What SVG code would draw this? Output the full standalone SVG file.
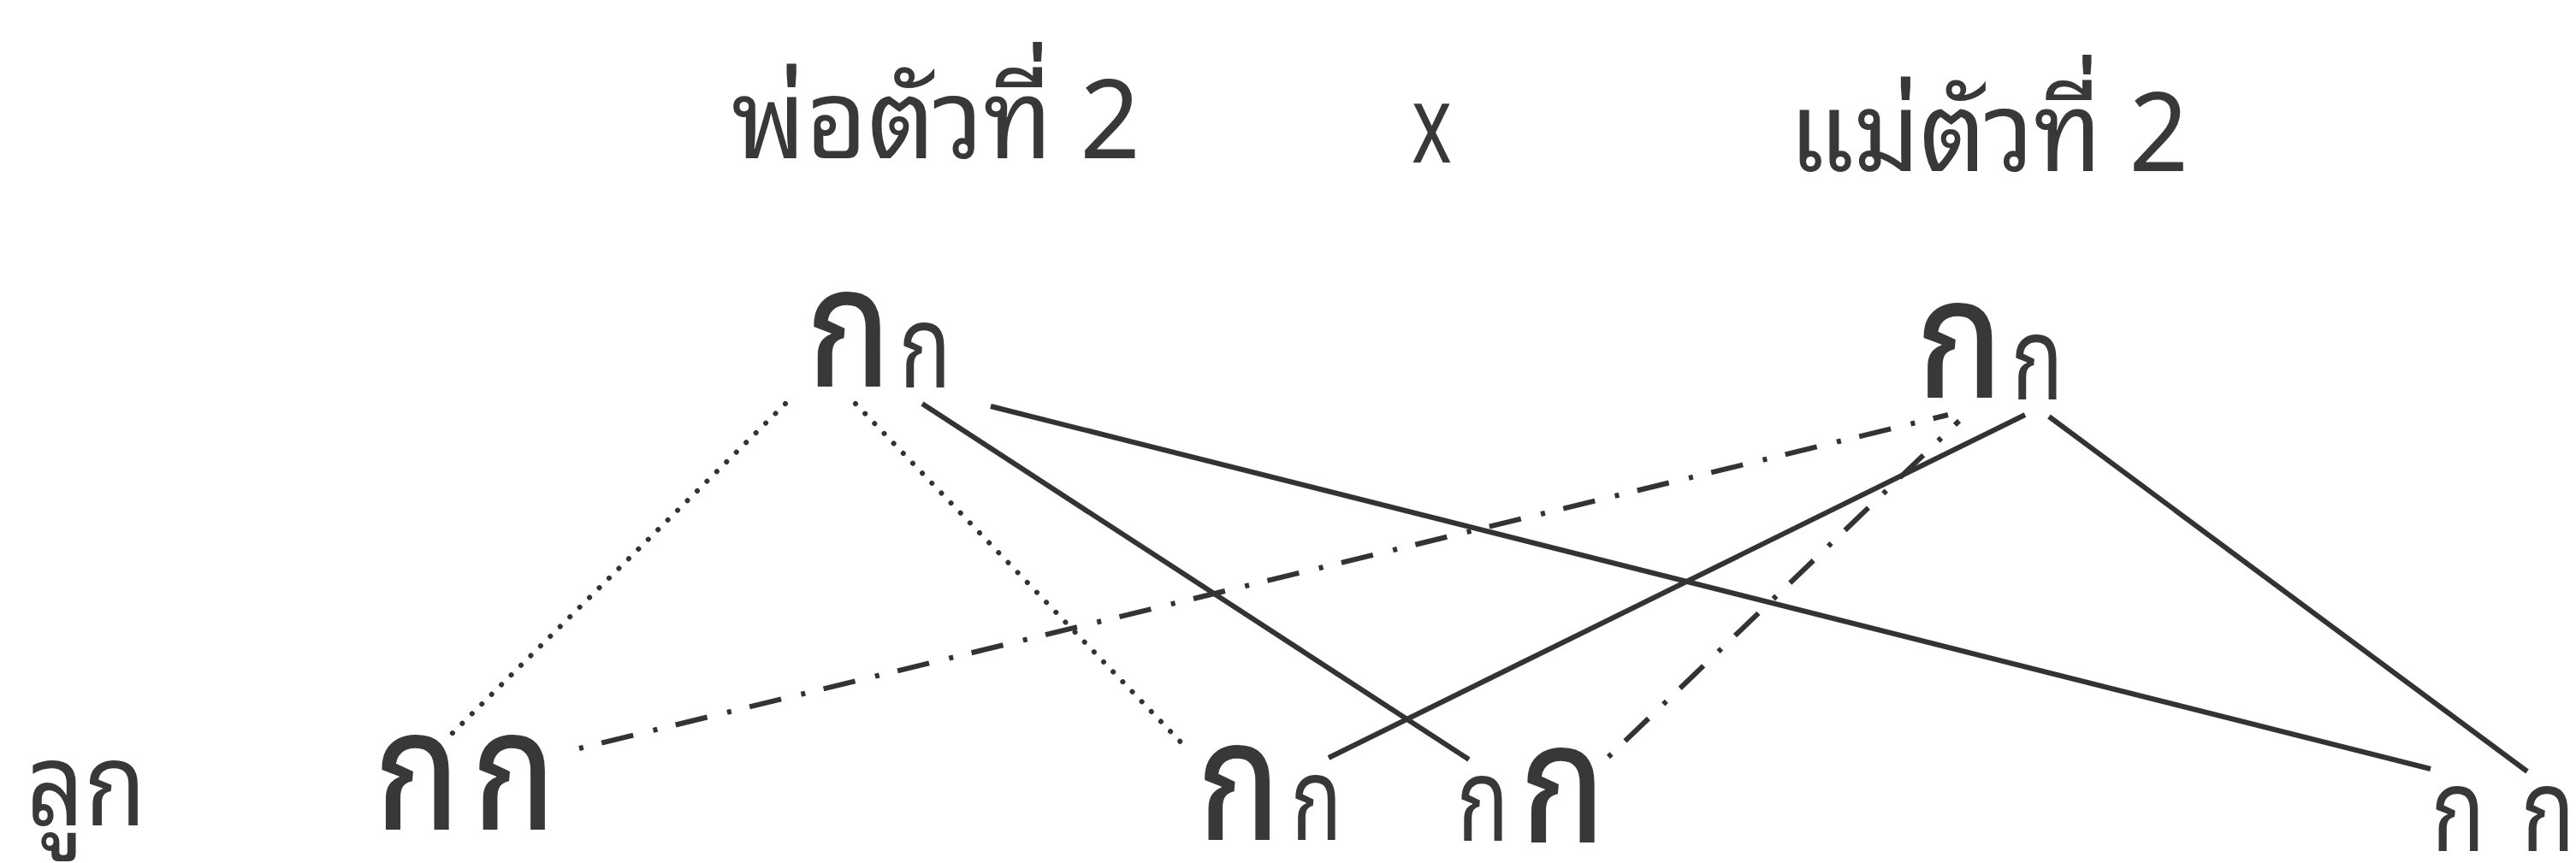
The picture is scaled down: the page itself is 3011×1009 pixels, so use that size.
<svg xmlns="http://www.w3.org/2000/svg" width="3011" height="1009" viewBox="0 0 3011 1009">
<style>
text { font-family: "Noto Sans Thai Looped", "Noto Sans Thai", "Noto Sans", "DejaVu Sans", sans-serif; fill: #383838; }
.big { font-size: 196px; font-weight: 500; }
.sm { font-size: 134px; font-weight: 400; }
.title { font-size: 128px; }
.ln { stroke: #333333; stroke-width: 6; fill: none; }
.dot { stroke-dasharray: 0.1 16; stroke-linecap: round; stroke-width: 6; }
.dd { stroke-dasharray: 5 22 38 24; stroke-width: 6; }
</style>
<rect width="3011" height="1009" fill="#ffffff"/>
<g id="title-father"><text class="title" x="855" y="185" textLength="478" lengthAdjust="spacingAndGlyphs">พ่อตัวที่ 2</text></g>
<g id="cross"><text class="title" x="1650" y="190" textLength="47" lengthAdjust="spacingAndGlyphs">x</text></g>
<g id="title-mother"><text class="title" x="2091" y="200" textLength="467" lengthAdjust="spacingAndGlyphs">แม่ตัวที่ 2</text></g>
<g id="parent-father"><text><tspan class="big" x="943" y="452" textLength="99" lengthAdjust="spacingAndGlyphs">ก</tspan><tspan class="sm" x="1051" y="453" textLength="61" lengthAdjust="spacingAndGlyphs">ก</tspan></text></g>
<g id="parent-mother"><text><tspan class="big" x="2240" y="465" textLength="102" lengthAdjust="spacingAndGlyphs">ก</tspan><tspan class="sm" x="2351" y="467" textLength="61" lengthAdjust="spacingAndGlyphs">ก</tspan></text></g>
<g id="label-offspring"><text class="sm" x="31" y="965" textLength="140" lengthAdjust="spacingAndGlyphs">ลูก</text></g>
<g id="child-1"><text class="big"><tspan x="438" y="970" textLength="100" lengthAdjust="spacingAndGlyphs">ก</tspan><tspan x="552" y="970" textLength="98" lengthAdjust="spacingAndGlyphs">ก</tspan></text></g>
<g id="child-2"><text><tspan class="big" x="1400" y="982" textLength="97" lengthAdjust="spacingAndGlyphs">ก</tspan><tspan class="sm" x="1509" y="982" textLength="60" lengthAdjust="spacingAndGlyphs">ก</tspan></text></g>
<g id="child-3"><text><tspan class="sm" x="1703" y="983" textLength="61" lengthAdjust="spacingAndGlyphs">ก</tspan><tspan class="big" x="1777" y="985" textLength="100" lengthAdjust="spacingAndGlyphs">ก</tspan></text></g>
<g id="child-4"><text class="sm"><tspan x="2842" y="995" textLength="63" lengthAdjust="spacingAndGlyphs">ก</tspan><tspan x="2947" y="995" textLength="63" lengthAdjust="spacingAndGlyphs">ก</tspan></text></g>
<g id="connectors">
<line class="ln dot" x1="918" y1="472" x2="528" y2="858"/>
<line class="ln dot" x1="1000" y1="472" x2="1390" y2="878"/>
<line class="ln" x1="1078" y1="472" x2="1717" y2="888"/>
<line class="ln" x1="1158" y1="475" x2="2841" y2="899"/>
<line class="ln dd" x1="677" y1="875" x2="2277" y2="485"/>
<line class="ln" x1="2367" y1="485" x2="1553" y2="886"/>
<line class="ln dd" x1="1880" y1="885" x2="2290" y2="492"/>
<line class="ln" x1="2395" y1="487" x2="2954" y2="902"/>
</g>
</svg>
